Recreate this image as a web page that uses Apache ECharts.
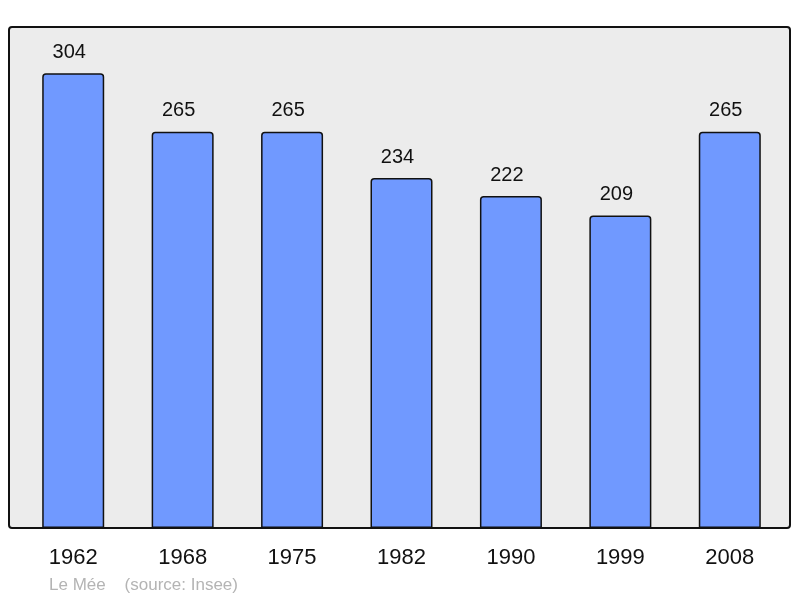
<!DOCTYPE html>
<html style="height: 100%;">
  <head>
    <meta charset="utf-8" />
  </head>
  <body style="height: 100%; margin: 0; background: #fff;">
    <div id="container" style="width: 800px; height: 598px;"></div>
    <script src="https://cdn.jsdelivr.net/npm/echarts@6/dist/echarts.min.js"></script>
    <script type="text/javascript">
      var years = ["1962", "1968", "1975", "1982", "1990", "1999", "2008"];
      var population = [304, 265, 265, 234, 222, 209, 265];
      var footer = "Le Mée    (source: Insee)";

      var dom = document.getElementById("container");
      var myChart = echarts.init(dom);

      var option = {
        animation: false,
        graphic: [
          {
            type: "rect",
            z: -10,
            shape: { x: 9, y: 27, width: 781, height: 501, r: 3 },
            style: { fill: "#ececec", stroke: "#111", lineWidth: 2 },
          },
          {
            type: "text",
            left: 49,
            top: 577,
            style: {
              text: footer,
              fill: "#b4b4b4",
              font: "17px 'Liberation Sans', Arial, sans-serif",
            },
          },
        ],
        grid: { left: 18.5, top: 27, width: 766, height: 501 },
        xAxis: {
          type: "category",
          data: years,
          axisLine: { show: false },
          axisTick: { show: false },
          axisLabel: {
            margin: 19,
            fontSize: 22,
            color: "#111",
            fontFamily: "Liberation Sans",
          },
        },
        yAxis: {
          type: "value",
          min: 0,
          max: 335,
          show: false,
          splitLine: { show: false },
        },
        series: [
          {
            type: "bar",
            data: population,
            barWidth: 62,
            itemStyle: {
              color: "#7099ff",
              borderColor: "#111",
              borderWidth: 1.5,
              borderRadius: [3, 3, 0, 0],
            },
            label: {
              show: true,
              position: "top",
              distance: 11,
              offset: [-4, 0],
              fontSize: 20,
              color: "#111",
              fontFamily: "Liberation Sans",
            },
          },
        ],
      };

      myChart.setOption(option);
    </script>
  </body>
</html>
